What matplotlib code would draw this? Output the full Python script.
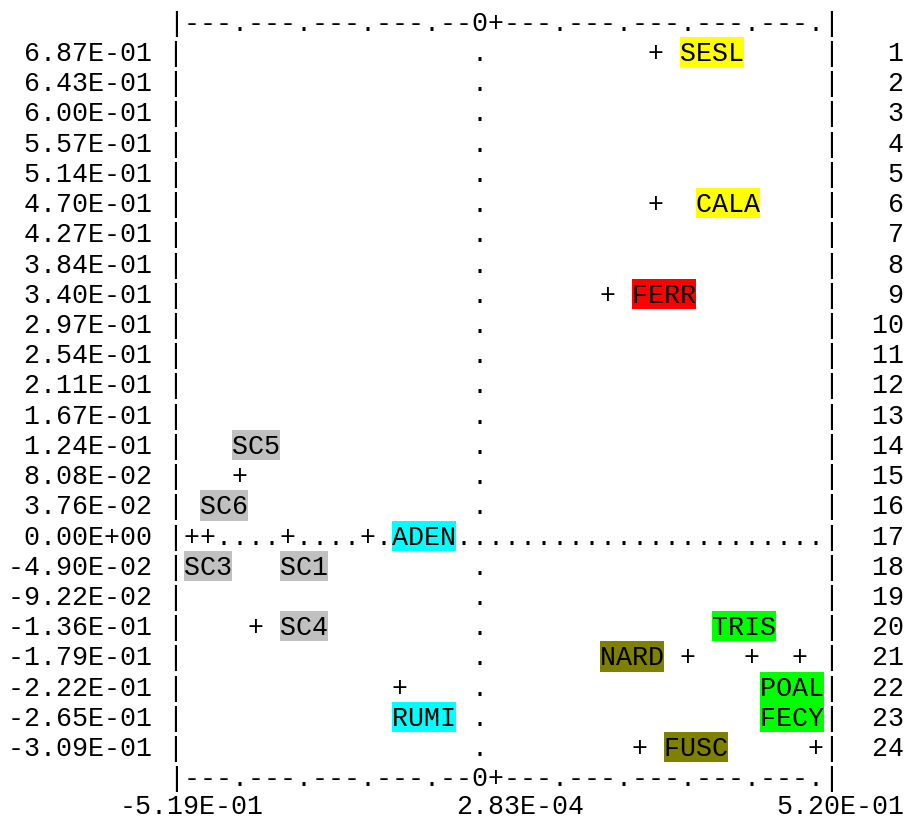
import matplotlib
matplotlib.use("Agg")
import matplotlib.pyplot as plt
from matplotlib.patches import Rectangle

# Y axis values (left) and row numbers (right)
y_labels = ["6.87E-01", "6.43E-01", "6.00E-01", "5.57E-01", "5.14E-01", "4.70E-01",
            "4.27E-01", "3.84E-01", "3.40E-01", "2.97E-01", "2.54E-01", "2.11E-01",
            "1.67E-01", "1.24E-01", "8.08E-02", "3.76E-02", "0.00E+00", "-4.90E-02",
            "-9.22E-02", "-1.36E-01", "-1.79E-01", "-2.22E-01", "-2.65E-01", "-3.09E-01"]
row_numbers = [1, 2, 3, 4, 5, 6, 7, 8, 9, 10, 11, 12,
               13, 14, 15, 16, 17, 18, 19, 20, 21, 22, 23, 24]
x_labels = ["-5.19E-01", "2.83E-04", "5.20E-01"]
x_label_cols = [7, 28, 48]

# points: (row, column inside the 40-char plot area)
point_rows = [1, 6, 9, 15, 17, 17, 17, 17, 20, 21, 21, 21, 22, 24, 24]
point_cols = [29, 29, 26, 3, 0, 1, 6, 11, 4, 31, 35, 38, 13, 28, 39]

# species labels
names = ["SESL", "CALA", "FERR", "SC5", "SC6", "ADEN", "SC3", "SC1", "SC4",
         "TRIS", "NARD", "POAL", "RUMI", "FECY", "FUSC"]
name_rows = [1, 6, 9, 14, 16, 17, 18, 18, 20, 20, 21, 22, 23, 23, 24]
name_cols = [31, 32, 28, 3, 1, 13, 0, 6, 6, 33, 26, 36, 13, 36, 30]
name_colors = ["#ffff00", "#ffff00", "#ff0000", "#c0c0c0", "#c0c0c0", "#00ffff",
               "#c0c0c0", "#c0c0c0", "#c0c0c0", "#00ff00", "#808000", "#00ff00",
               "#00ffff", "#00ff00", "#808000"]

width = 40
zero_row = 17
zero_col = 18

# grid geometry (pixels)
x0 = 8
cw = 16
top0 = 7.8
lh = 30.22
base_off = 23
first_col = 11

# build the text grid
grid = {}
for r in range(1, 25):
    cells = [" "] * width
    if r == zero_row:
        cells = ["."] * width
    else:
        cells[zero_col] = "."
    grid[r] = cells
for r, c in zip(point_rows, point_cols):
    grid[r][c] = "+"
for n, r, c in zip(names, name_rows, name_cols):
    for i, ch in enumerate(n):
        grid[r][c + i] = ch

border = []
for p in range(width):
    if p == zero_col:
        border.append("0")
    elif p == zero_col + 1:
        border.append("+")
    elif p % 4 == 3:
        border.append(".")
    else:
        border.append("-")
border_line = " " * 10 + "|" + "".join(border) + "|"

lines = [border_line]
for r in range(1, 25):
    lines.append(f"{y_labels[r - 1]:>9} |" + "".join(grid[r]) + "|" + f"  {row_numbers[r - 1]:>2}")
lines.append(border_line)

fig = plt.figure(figsize=(9.05, 8.2), dpi=100)
ax = fig.add_axes([0, 0, 1, 1])
ax.set_xlim(0, 905)
ax.set_ylim(820, 0)
ax.axis("off")

# highlight boxes behind the labels
for n, r, c, col in zip(names, name_rows, name_cols, name_colors):
    ax.add_patch(Rectangle((x0 + (first_col + c) * cw, top0 + r * lh),
                           len(n) * cw, lh, facecolor=col, edgecolor="none"))

font = dict(family="Liberation Mono", fontsize=19.2, color="black",
            ha="left", va="baseline")
for i, line in enumerate(lines):
    stripped = line.lstrip(" ")
    lead = len(line) - len(stripped)
    ax.text(x0 + lead * cw, top0 + i * lh + base_off, stripped, **font)

# x axis labels under the bottom border
y_bottom = top0 + len(lines) * lh + base_off - 3
for lab, c in zip(x_labels, x_label_cols):
    ax.text(x0 + c * cw, y_bottom, lab, **font)

fig.savefig("out.png", dpi=100, facecolor="white")
